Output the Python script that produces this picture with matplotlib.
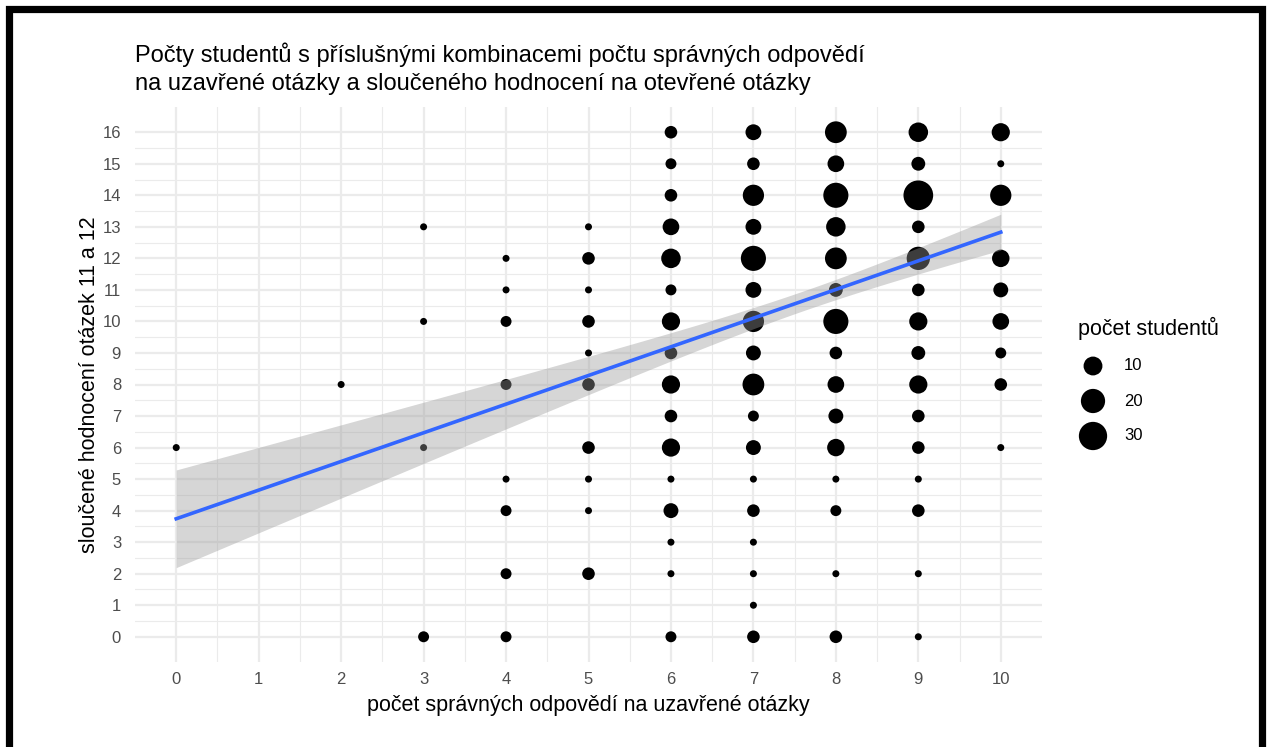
import numpy as np
import matplotlib
matplotlib.use("Agg")
import matplotlib.pyplot as plt
from matplotlib.patches import Rectangle

# ---- data: (closed-question score, combined open score, number of students)
x_vals = [0,
          2,
          3, 3, 3, 3,
          4, 4, 4, 4, 4, 4, 4, 4,
          5, 5, 5, 5, 5, 5, 5, 5, 5, 5,
          6, 6, 6, 6, 6, 6, 6, 6, 6, 6, 6, 6, 6, 6, 6, 6,
          7, 7, 7, 7, 7, 7, 7, 7, 7, 7, 7, 7, 7, 7, 7, 7, 7,
          8, 8, 8, 8, 8, 8, 8, 8, 8, 8, 8, 8, 8, 8, 8,
          9, 9, 9, 9, 9, 9, 9, 9, 9, 9, 9, 9, 9, 9, 9,
          10, 10, 10, 10, 10, 10, 10, 10, 10]
y_vals = [6,
          8,
          13, 10, 6, 0,
          12, 11, 10, 8, 5, 4, 2, 0,
          13, 12, 11, 10, 9, 8, 6, 5, 4, 2,
          16, 15, 14, 13, 12, 11, 10, 9, 8, 7, 6, 5, 4, 3, 2, 0,
          16, 15, 14, 13, 12, 11, 10, 9, 8, 7, 6, 5, 4, 3, 2, 1, 0,
          16, 15, 14, 13, 12, 11, 10, 9, 8, 7, 6, 5, 4, 2, 0,
          16, 15, 14, 13, 12, 11, 10, 9, 8, 7, 6, 5, 4, 2, 0,
          16, 15, 14, 12, 11, 10, 9, 8, 6]
counts = [1,
          1,
          1, 1, 1, 2,
          1, 1, 2, 2, 1, 2, 2, 2,
          1, 3, 1, 3, 1, 3, 3, 1, 1, 3,
          3, 2, 3, 7, 11, 2, 9, 3, 9, 3, 9, 1, 5, 1, 1, 2,
          6, 3, 14, 6, 22, 6, 14, 5, 15, 2, 5, 1, 3, 1, 1, 1, 3,
          15, 7, 22, 11, 15, 4, 22, 3, 7, 5, 8, 1, 2, 1, 3,
          11, 4, 34, 3, 18, 3, 9, 4, 9, 3, 3, 1, 3, 1, 1,
          9, 1, 14, 8, 5, 7, 2, 3, 1]

x_ticks = list(range(0, 11))
y_ticks = list(range(0, 17))
legend_values = [10, 20, 30]

title = ("Počty studentů s příslušnými kombinacemi počtu správných odpovědí\n"
         "na uzavřené otázky a sloučeného hodnocení na otevřené otázky")
xlabel = "počet správných odpovědí na uzavřené otázky"
ylabel = "sloučené hodnocení otázek 11 a 12"
legend_title = "počet studentů"

# ---- style
plt.rcParams['font.family'] = ['Liberation Sans', 'DejaVu Sans']
W, H, DPI = 1269, 747, 100
fig = plt.figure(figsize=(W / DPI, H / DPI), dpi=DPI)
fig.patch.set_facecolor('white')

ax = fig.add_axes([135 / W, 1 - 662 / H, (1042 - 135) / W, (662 - 107) / H])

x = np.array(x_vals, float)
y = np.array(y_vals, float)
c = np.array(counts, float)
vmin, vmax = c.min(), c.max()


def diam_px(v):
    size = 1 + 5 * np.sqrt((np.asarray(v, float) - vmin) / (vmax - vmin))
    return 4.54 * size + 2.46


def area_pt2(v):
    return (diam_px(v) * 72 / DPI) ** 2


# grid
ax.set_xlim(-0.5, 10.5)
ax.set_ylim(-0.8, 16.8)
for xv in x_ticks:
    ax.axvline(xv, color='#EBEBEB', lw=1.6, zorder=0)
for xv in np.arange(0.5, 10, 1.0):
    ax.axvline(xv, color='#EBEBEB', lw=0.8, zorder=0)
for yv in y_ticks:
    ax.axhline(yv, color='#EBEBEB', lw=1.6, zorder=0)
for yv in np.arange(0.5, 16, 1.0):
    ax.axhline(yv, color='#EBEBEB', lw=0.8, zorder=0)

# points
ax.scatter(x, y, s=area_pt2(c), color='black', edgecolors='none', zorder=2)

# linear fit with 95% CI (weighted by counts = individual students)
xr = np.repeat(x, c.astype(int))
yr = np.repeat(y, c.astype(int))
n = len(xr)
slope, intercept = np.polyfit(xr, yr, 1)
resid = yr - (intercept + slope * xr)
s = np.sqrt(np.sum(resid ** 2) / (n - 2))
xbar = xr.mean()
sxx = np.sum((xr - xbar) ** 2)
xs = np.linspace(xr.min(), xr.max(), 100)
fit = intercept + slope * xs
se = s * np.sqrt(1 / n + (xs - xbar) ** 2 / sxx)
tq = 1.964
ax.fill_between(xs, fit - tq * se, fit + tq * se, color='#999999', alpha=0.4,
                lw=0, zorder=3)
ax.plot(xs, fit, color='#3366FF', lw=2.6, zorder=4)

# axes
for sp in ax.spines.values():
    sp.set_visible(False)
ax.set_xticks(x_ticks)
ax.set_yticks(y_ticks)
ax.tick_params(axis='both', length=0, labelsize=12, labelcolor='#4D4D4D')
ax.tick_params(axis='x', pad=7)
ax.tick_params(axis='y', pad=10)
ax.set_xlabel(xlabel, fontsize=15.5, labelpad=6)
ax.set_ylabel(ylabel, fontsize=15.5, labelpad=2)

fig.text(135 / W, 1 - 42 / H, title, fontsize=17, ha='left', va='top',
         linespacing=1.35)

# legend (manual, in pixel coordinates)
lax = fig.add_axes([1060 / W, 1 - 460 / H, 180 / W, 160 / H])
lax.set_xlim(1060, 1240)
lax.set_ylim(460, 300)
lax.axis('off')
lax.text(1078, 328, legend_title, fontsize=15.5, ha='left', va='center')
ly = [366, 401, 436]
lax.scatter([1093] * 3, ly, s=area_pt2(legend_values), color='black',
            edgecolors='none', clip_on=False)
for yy, v in zip(ly, legend_values):
    lax.text(1124, yy, str(v), fontsize=12, ha='left', va='center')

# black frame
fig.patches.append(Rectangle((8.5 / W, -0.2), (1261.5 - 8.5) / W, 1.2 - 8.5 / H,
                             transform=fig.transFigure, fill=False,
                             edgecolor='black', lw=5.2, clip_on=False))

fig.savefig('out.png', dpi=DPI)
